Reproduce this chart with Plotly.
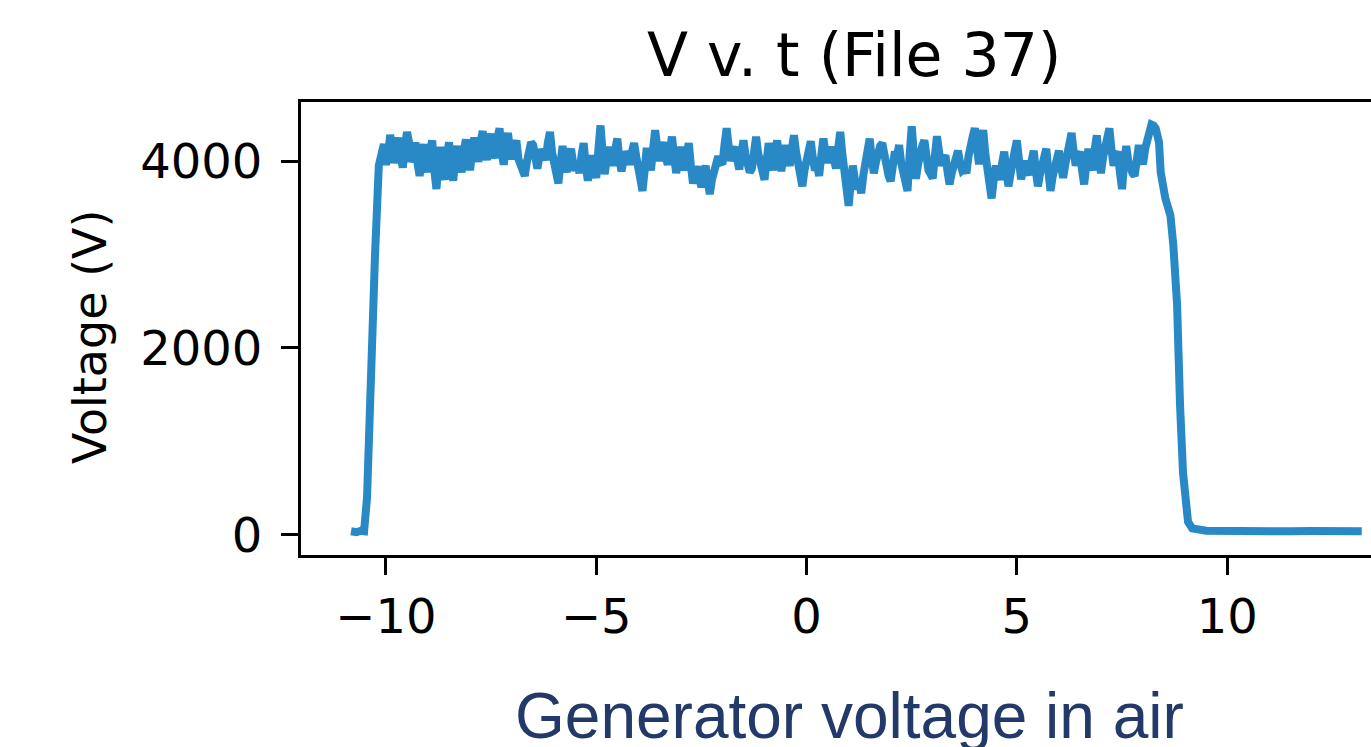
import plotly.graph_objects as go

# ---- data ----
rise_t = [-10.83, -10.70, -10.60, -10.52, -10.45, -10.36, -10.26, -10.17]
rise_v = [40, 30, 45, 40, 400, 2000, 3000, 3950]

plateau_t = [
    -10.1, -10.0, -9.9, -9.8, -9.7, -9.6, -9.5, -9.4, -9.3, -9.2,
    -9.1, -9.0, -8.9, -8.8, -8.7, -8.6, -8.5, -8.4, -8.3, -8.2,
    -8.1, -8.0, -7.9, -7.8, -7.7, -7.6, -7.5, -7.4, -7.3, -7.2,
    -7.1, -7.0, -6.9, -6.8, -6.7, -6.6, -6.5, -6.4, -6.3, -6.2,
    -6.1, -6.0, -5.9, -5.8, -5.7, -5.6, -5.5, -5.4, -5.3, -5.2,
    -5.1, -5.0, -4.9, -4.8, -4.7, -4.6, -4.5, -4.4, -4.3, -4.2,
    -4.1, -4.0, -3.9, -3.8, -3.7, -3.6, -3.5, -3.4, -3.3, -3.2,
    -3.1, -3.0, -2.9, -2.8, -2.7, -2.6, -2.5, -2.4, -2.3, -2.2,
    -2.1, -2.0, -1.9, -1.8, -1.7, -1.6, -1.5, -1.4, -1.3, -1.2,
    -1.1, -1.0, -0.9, -0.8, -0.7, -0.6, -0.5, -0.4, -0.3, -0.2,
    -0.1, 0.0, 0.1, 0.2, 0.3, 0.4, 0.5, 0.6, 0.7, 0.8,
    0.9, 1.0, 1.1, 1.2, 1.3, 1.4, 1.5, 1.6, 1.7, 1.8,
    1.9, 2.0, 2.1, 2.2, 2.3, 2.4, 2.5, 2.6, 2.7, 2.8,
    2.9, 3.0, 3.1, 3.2, 3.3, 3.4, 3.5, 3.6, 3.7, 3.8,
    3.9, 4.0, 4.1, 4.2, 4.3, 4.4, 4.5, 4.6, 4.7, 4.8,
    4.9, 5.0, 5.1, 5.2, 5.3, 5.4, 5.5, 5.6, 5.7, 5.8,
    5.9, 6.0, 6.1, 6.2, 6.3, 6.4, 6.5, 6.6, 6.7, 6.8,
    6.9, 7.0, 7.1, 7.2, 7.3, 7.4, 7.5, 7.6, 7.7, 7.8,
    7.9, 8.0, 8.1, 8.2, 8.3,
]
plateau_v = [
    4100, 3960, 4280, 3980, 4250, 3930, 4310, 3990, 4200, 3840,
    4180, 3880, 4220, 3700, 4150, 3800, 4200, 3790, 4160, 3880,
    4230, 3900, 4250, 3990, 4320, 4010, 4290, 4030, 4350, 3960,
    4300, 4020, 4220, 3950, 3840, 4100, 4170, 3920, 4120, 4010,
    4310, 3950, 3760, 4160, 3880, 4130, 3900, 3870, 4190, 3790,
    4060, 3820, 4380, 3860, 4150, 3950, 4240, 3890, 4100, 3960,
    4190, 3940, 3680, 4140, 3900, 4330, 4000, 4200, 3960, 4260,
    3870, 4150, 3900, 4190, 3760, 3940, 3720, 3950, 3645, 3900,
    4050, 3965, 4350, 4000, 4150, 3910, 4220, 3950, 3920, 4260,
    3950, 3800, 4190, 3900, 4220, 3890, 4170, 3950, 4275, 3960,
    3730, 4050, 4210, 3900, 3840, 4240, 3980, 4150, 3920, 4310,
    3900, 3520, 3950, 3700, 3655, 4000, 4240, 3870, 4100, 4190,
    3900, 3785, 4100, 4170, 3850, 3680, 4370, 3810, 4100, 4220,
    3900, 3815, 4265, 3950, 4060, 3750, 3950, 4110, 3900, 3870,
    4200, 4350, 3965, 4330, 3900, 3600, 3950, 3800, 4100, 3730,
    3950, 4220, 3805, 4000, 3850, 4110, 3730, 3950, 4130, 3680,
    3950, 4110, 3820, 4050, 4300, 3950, 4100, 3750, 4130, 3900,
    4275, 3870, 4150, 4350, 3950, 4100, 3700, 4160, 3900, 3840,
    4170, 3965, 4250, 4390, 4350,
]

plateau_mid_t = [
    -10.05, -9.95, -9.85, -9.75, -9.65, -9.55, -9.45, -9.35, -9.25, -9.15,
    -9.05, -8.95, -8.85, -8.75, -8.65, -8.55, -8.45, -8.35, -8.25, -8.15,
    -8.05, -7.95, -7.85, -7.75, -7.65, -7.55, -7.45, -7.35, -7.25, -7.15,
    -7.05, -6.95, -6.85, -6.75, -6.65, -6.55, -6.45, -6.35, -6.25, -6.15,
    -6.05, -5.95, -5.85, -5.75, -5.65, -5.55, -5.45, -5.35, -5.25, -5.15,
    -5.05, -4.95, -4.85, -4.75, -4.65, -4.55, -4.45, -4.35, -4.25, -4.15,
    -4.05, -3.95, -3.85, -3.75, -3.65, -3.55, -3.45, -3.35, -3.25, -3.15,
    -3.05, -2.95, -2.85, -2.75, -2.65, -2.55, -2.45, -2.35, -2.25, -2.15,
    -2.05, -1.95, -1.85, -1.75, -1.65, -1.55, -1.45, -1.35, -1.25, -1.15,
    -1.05, -0.95, -0.85, -0.75, -0.65, -0.55, -0.45, -0.35, -0.25, -0.15,
    -0.05, 0.05, 0.15, 0.25, 0.35, 0.45, 0.55, 0.65, 0.75, 0.85,
    0.95, 1.05, 1.15, 1.25, 1.35, 1.45, 1.55, 1.65, 1.75, 1.85,
    1.95, 2.05, 2.15, 2.25, 2.35, 2.45, 2.55, 2.65, 2.75, 2.85,
    2.95, 3.05, 3.15, 3.25, 3.35, 3.45, 3.55, 3.65, 3.75, 3.85,
    3.95, 4.05, 4.15, 4.25, 4.35, 4.45, 4.55, 4.65, 4.75, 4.85,
    4.95, 5.05, 5.15, 5.25, 5.35, 5.45, 5.55, 5.65, 5.75, 5.85,
    5.95, 6.05, 6.15, 6.25, 6.35, 6.45, 6.55, 6.65, 6.75, 6.85,
    6.95, 7.05, 7.15, 7.25, 7.35, 7.45, 7.55, 7.65, 7.75, 7.85,
    7.95, 8.05, 8.15, 8.25,
]
plateau_mid_v = [
    4180, 4060, 4170, 4080, 4040, 4150, 4200, 4060, 3980, 4020,
    4000, 4110, 3900, 3980, 3920, 4060, 3930, 4030, 3980, 4100,
    4080, 4120, 4140, 4200, 4120, 4180, 4120, 4240, 4100, 4150,
    4120, 4140, 4020, 3880, 3990, 4200, 4030, 4050, 4080, 4200,
    4090, 3850, 3980, 3990, 4050, 3980, 3960, 4060, 3950, 3950,
    3920, 4120, 4100, 4020, 4050, 4120, 4020, 4010, 4050, 4100,
    4050, 3790, 3900, 4020, 4120, 4150, 4130, 4050, 4110, 4060,
    4020, 4030, 4080, 3950, 3880, 3830, 3860, 3780, 3800, 3980,
    3990, 4180, 4150, 4100, 4020, 4080, 4060, 3880, 4100, 4080,
    3880, 4000, 4060, 4080, 4040, 4050, 4040, 4130, 4100, 3860,
    3900, 4120, 4030, 3950, 4060, 4090, 4080, 4020, 4130, 4080,
    3680, 3760, 3800, 3780, 3850, 4140, 4030, 3990, 4160, 4020,
    3840, 3960, 4050, 3980, 3760, 4060, 4080, 3960, 4160, 4040,
    3860, 4050, 4100, 4020, 3890, 3870, 4040, 3980, 3920, 4050,
    4260, 4140, 4160, 4080, 3720, 3800, 3860, 3980, 3900, 3860,
    4110, 4000, 3920, 3910, 4000, 3900, 3860, 4070, 3890, 3830,
    4050, 3950, 3960, 4190, 4100, 4050, 3900, 3960, 4000, 4120,
    4050, 4040, 4280, 4120, 4060, 3880, 3960, 4000, 3870, 4030,
    4040, 4130, 4330, 4380,
]

fall_t = [8.38, 8.42, 8.53, 8.65, 8.72, 8.81, 8.88, 8.95, 9.07, 9.17,
          9.5, 10.0, 10.5, 11.0, 11.5, 12.0, 12.5, 13.0, 13.2]
fall_v = [4200, 3880, 3600, 3420, 3100, 2460, 1390, 670, 140, 70,
          45, 40, 42, 38, 40, 43, 39, 41, 40]

x_tick_vals = [-10, -5, 0, 5, 10]
x_tick_text = ["\u221210", "\u22125", "0", "5", "10"]
y_tick_vals = [0, 2000, 4000]
y_tick_text = ["0", "2000", "4000"]

pts = sorted(zip(rise_t + plateau_t + plateau_mid_t + fall_t,
                 rise_v + plateau_v + plateau_mid_v + fall_v))
t = [p[0] for p in pts]
v = [p[1] for p in pts]

LINE_COLOR = "#2889c6"
FONT = "DejaVu Sans"

fig = go.Figure()
fig.add_trace(go.Scatter(x=t, y=v, mode="lines",
                         line=dict(color=LINE_COLOR, width=8),
                         hoverinfo="skip", showlegend=False))

fig.update_layout(
    width=1371, height=747,
    margin=dict(l=301, r=0, t=102, b=192, pad=0),
    paper_bgcolor="white", plot_bgcolor="white",
    font=dict(family=FONT, color="black"),
    showlegend=False,
    xaxis=dict(range=[-12.02, 13.42], tickvals=x_tick_vals, ticktext=x_tick_text,
               showgrid=False, zeroline=False, showline=True, linecolor="black",
               linewidth=3, mirror=True, ticks="outside", ticklen=17, tickwidth=3,
               tickcolor="black", tickfont=dict(size=48, family=FONT, color="black")),
    yaxis=dict(range=[-214, 4631], tickvals=y_tick_vals, ticktext=y_tick_text,
               showgrid=False, zeroline=False, showline=True, linecolor="black",
               linewidth=3, mirror=False, ticks="outside", ticklen=17, tickwidth=3,
               ticklabelstandoff=9,
               tickcolor="black", tickfont=dict(size=48, family=FONT, color="black")),
    annotations=[
        dict(text="V v. t (File 37)", xref="paper", yref="paper", x=(854 - 301) / 1070,
             y=1 + 47 / 453, xanchor="center", yanchor="middle", showarrow=False,
             font=dict(size=60, family=FONT, color="black")),
        dict(text="Voltage (V)", xref="paper", yref="paper", x=(90 - 301) / 1070,
             y=(555 - 337) / 453, xanchor="center", yanchor="middle", textangle=-90,
             showarrow=False, font=dict(size=46, family=FONT, color="black")),
        dict(text="Generator voltage in air", xref="paper", yref="paper",
             x=(849 - 301) / 1070, y=(555 - 716) / 453, xanchor="center",
             yanchor="middle", showarrow=False,
             font=dict(size=64, family="Liberation Sans", color="#23396a")),
    ],
)

fig.write_html("out.html", config={"displayModeBar": False},
               post_script="document.body.style.margin='0';")
